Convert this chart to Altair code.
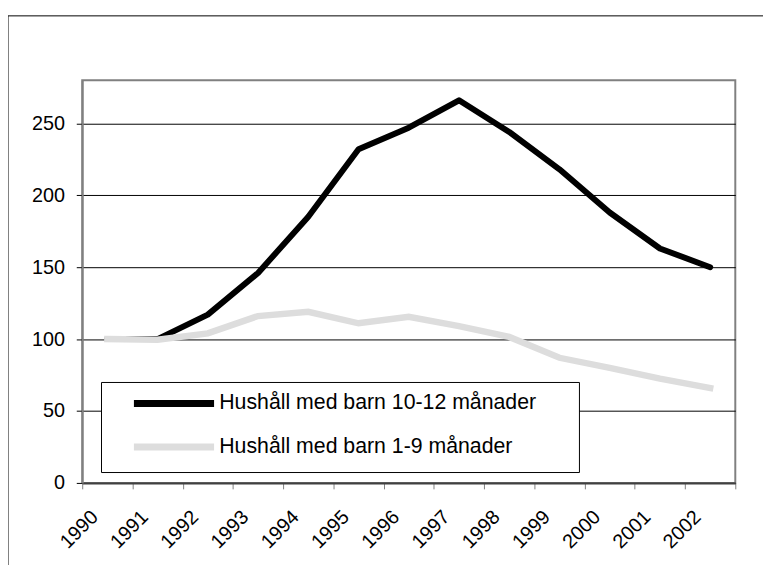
import altair as alt
import pandas as pd

years = ["1990", "1991", "1992", "1993", "1994", "1995", "1996",
         "1997", "1998", "1999", "2000", "2001", "2002"]
series_names = ["Hushåll med barn 10-12 månader", "Hushåll med barn 1-9 månader"]
black_vals = [100, 100, 117, 146, 185, 232, 247, 266, 244, 218, 188, 163, 150]
gray_vals = [100, 99.5, 104, 116, 119, 111, 115.5, 109, 101.5, 87, 80, 72.5, 66]
y_ticks = [0, 50, 100, 150, 200, 250]

rows = []
for name, vals in zip(series_names, [black_vals, gray_vals]):
    for yr, v in zip(years, vals):
        rows.append({"year": yr, "value": v, "serie": name})
df = pd.DataFrame(rows)

FONT = "Liberation Sans"
BLANK = "\u2800"

x_enc = alt.X(
    "year:O",
    bandPosition=0.5,
    sort=years,
    title=None,
    scale=alt.Scale(type="band", paddingInner=0, paddingOuter=0),
    axis=alt.Axis(
        tickBand="extent",
        labelAngle=-45,
        labelAlign="right",
        labelBaseline="middle",
        labelPadding=25,
        labelOffset=-13,
        tickSize=6,
        tickColor="#808080",
        domainColor="#404040",
        domainWidth=2,
        grid=False,
        labelFontSize=20,
        labelColor="black",
    ),
)
y_enc = alt.Y(
    "value:Q",
    title=None,
    scale=alt.Scale(domain=[0, 280], nice=False, zero=True),
    axis=alt.Axis(
        values=y_ticks,
        grid=True,
        gridColor="black",
        gridWidth=1,
        domainColor="#808080",
        domainWidth=2,
        tickSize=6,
        tickColor="black",
        labelPadding=12,
        labelFontSize=20,
        labelColor="black",
    ),
)
color_enc = alt.Color(
    "serie:N",
    sort=series_names,
    scale=alt.Scale(domain=series_names, range=["#000000", "#dddddd"]),
    legend=alt.Legend(
        title=None,
        labelExpr="datum.label + '" + BLANK * 2 + "'",
    ),
)

base = alt.Chart(df)
black_line = base.transform_filter(alt.datum.serie == series_names[0]).mark_line(
    strokeWidth=6, strokeCap="round", strokeJoin="round"
).encode(x=x_enc, y=y_enc, color=color_enc)
gray_line = base.transform_filter(alt.datum.serie == series_names[1]).mark_line(
    strokeWidth=6.5, strokeCap="square", strokeJoin="miter"
).encode(x=x_enc, y=y_enc, color=color_enc)

frame = alt.Chart(pd.DataFrame({"f": [0]})).mark_rect(
    fill="transparent", stroke="black", strokeWidth=1
).encode(
    x=alt.value(-75), x2=alt.value(800), y=alt.value(-65), y2=alt.value(700)
)

chart = alt.layer(frame, black_line, gray_line).properties(
    width=660,
    height=407,
    padding={"left": 75, "top": 70, "right": 28, "bottom": 80},
    autosize=alt.AutoSizeParams(type="none"),
    background="white",
).configure_view(
    stroke="#808080", strokeWidth=2
).configure_axis(
    labelFont=FONT, titleFont=FONT
).configure_legend(
    orient="none",
    legendX=19,
    legendY=305,
    fillColor="white",
    strokeColor="black",
    strokeWidth=1,
    padding=11,
    symbolType="M-6,0H6",
    symbolSize=182.25,
    symbolStrokeWidth=7,
    symbolOffset=52,
    labelOffset=35,
    labelFont=FONT,
    labelFontSize=21.5,
    labelColor="black",
    labelLimit=0,
    rowPadding=15,
)

chart.save("out.html", embed_options={"renderer": "svg", "actions": False})
